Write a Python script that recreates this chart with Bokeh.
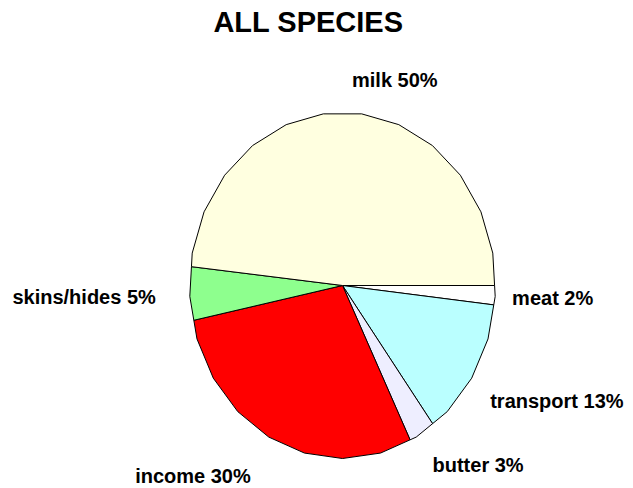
import math
from bokeh.plotting import figure
from bokeh.models import ColumnDataSource, Range1d
from bokeh.core.properties import value
from bokeh.embed import file_html
from bokeh.resources import INLINE

# Data (clockwise from east)
categories = ["meat", "transport", "butter", "income", "skins/hides", "milk"]
shares = [1.8, 13.1, 2.8, 29.1, 5.0, 48.3]
labels = ["meat 2%", "transport 13%", "butter 3%", "income 30%", "skins/hides 5%", "milk 50%"]
colors = ["#FFFFFF", "#BAFFFF", "#EEEEFF", "#FF0000", "#8EFF8E", "#FFFFE0"]
title_text = "ALL SPECIES"

# label nudges in pixels (style only)
label_dx = [-3, -2, 0, -16, -14, 0]
label_dy = [1, 7, 2, 4, 2, 1]

W, H = 633, 488
CX, CY = 342, 285        # pie centre in pixels
RX, RY = 153, 173        # pixel radii

x_range = Range1d(-CX / RX, (W - CX) / RX)
y_range = Range1d(-(H - CY) / RY, CY / RY)

p = figure(width=W, height=H, x_range=x_range, y_range=y_range,
           output_backend="svg", toolbar_location=None, min_border=0,
           outline_line_color=None)
p.axis.visible = False
p.grid.visible = False
p.background_fill_color = "white"
p.border_fill_color = "white"

NSEG = 25
STEP = 2 * math.pi / NSEG
OFF = math.radians(82.8)


def boundary(phi):
    # intersection of ray at angle phi with the NSEG-gon
    k = math.floor((phi - OFF) / STEP)
    mid = OFF + (k + 0.5) * STEP
    r = math.cos(STEP / 2) / math.cos(phi - mid)
    return r * math.cos(phi), r * math.sin(phi)


total = sum(shares)
xs, ys = [], []
lx, ly, align, base = [], [], [], []
start = 0.0
for s in shares:
    sweep = 2 * math.pi * s / total
    end = start - sweep
    px, py = [0.0], [0.0]
    bx, by = boundary(start)
    px.append(bx); py.append(by)
    m = math.floor((start - OFF) / STEP)
    while True:
        th = OFF + m * STEP
        if th >= start - 1e-9:
            m -= 1
            continue
        if th <= end + 1e-9:
            break
        px.append(math.cos(th)); py.append(math.sin(th))
        m -= 1
    bx, by = boundary(end)
    px.append(bx); py.append(by)
    xs.append(px); ys.append(py)

    mid = (start + end) / 2
    c, sn = math.cos(mid), math.sin(mid)
    lx.append(1.13 * c)
    ly.append(1.13 * sn)
    align.append("left" if c >= 0 else "right")
    if abs(sn) < 0.3:
        base.append("middle")
    elif sn < 0:
        base.append("top")
    else:
        base.append("bottom")
    start = end

src = ColumnDataSource(dict(xs=xs, ys=ys, color=colors, cat=categories))
p.patches("xs", "ys", source=src, fill_color="color", line_color="black",
          line_width=1)

lsrc = ColumnDataSource(dict(x=lx, y=ly, text=labels, align=align, base=base,
                             dx=label_dx, dy=label_dy))
p.text("x", "y", text="text", source=lsrc, text_align="align",
       text_baseline="base", x_offset="dx", y_offset="dy",
       text_font=value("Liberation Sans"),
       text_font_style="bold", text_font_size="20px", text_color="black")

p.text(x=[(308 - CX) / RX], y=[(CY - 21) / RY], text=[title_text],
       text_align="center", text_baseline="middle",
       text_font=value("Liberation Sans"), text_font_style="bold",
       text_font_size="29px", text_color="black")

open("out.html", "w").write(file_html(p, INLINE))
